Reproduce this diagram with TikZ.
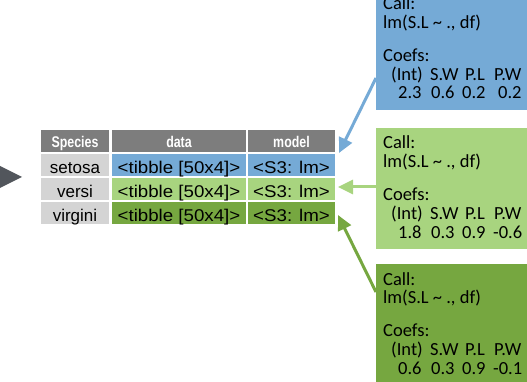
\documentclass[tikz,border=0pt]{standalone}
\usepackage{fontspec}
\setmainfont{Liberation Sans}
\newfontfamily\boxfont{Carlito}
\newfontfamily\widefont[FakeStretch=1.1]{Liberation Sans}
\newfontfamily\hdrfont[FakeStretch=0.8]{Liberation Sans Bold}
\usetikzlibrary{arrows.meta}
\definecolor{cblue}{RGB}{117,170,214}
\definecolor{clight}{RGB}{168,212,127}
\definecolor{cdark}{RGB}{118,167,64}
\definecolor{chead}{RGB}{125,125,125}
\definecolor{cspec}{RGB}{212,212,212}
\definecolor{carrow}{RGB}{82,86,92}
\newcommand\coefpanel[8]{%
  \node[panel, fill=#3] (#1) at (376,#2) {};
  \node[ptext] (#1call) at (383,{#2+21}) {Call:};
  \node[ptext] (#1lm) at (383,{#2+39.5}) {lm(S.L \textasciitilde{} ., df)};
  \node[ptext] (#1coef) at (383,{#2+72.5}) {Coefs:};
  \node[ptext] (#1hA) at (391,{#2+91.5}) {(Int)};
  \node[ptext] (#1hB) at (430,{#2+91.5}) {S.W};
  \node[ptext] (#1hC) at (465,{#2+91.5}) {P.L};
  \node[ptext] (#1hD) at (494,{#2+91.5}) {P.W};
  \node[ptext] (#1vA) at (398,{#2+110}) {#4};
  \node[ptext] (#1vB) at (431,{#2+110}) {#5};
  \node[ptext] (#1vC) at (462,{#2+110}) {#6};
  \node[ptext] (#1vD) at (#8,{#2+110}) {#7};
}
\begin{document}
\begin{tikzpicture}[x=1pt,y=-1pt,
  cellbox/.style={draw=none, inner sep=0pt, minimum height=22pt, anchor=center,
    font=\fontsize{17}{17}\selectfont, text height=17pt, text depth=0.5pt},
  widebox/.style={cellbox, font=\widefont\fontsize{17}{17}\selectfont},
  hdrbox/.style={cellbox, fill=chead, text=white,
    font=\hdrfont\fontsize{15.5}{15.5}\selectfont, text height=13.5pt, text depth=0.4pt},
  panel/.style={draw=none, inner sep=0pt, anchor=north west, minimum width=160pt, minimum height=121pt},
  ptext/.style={inner sep=0pt, anchor=base west, font=\boxfont\fontsize{18.5}{18.5}\selectfont},
  arr/.style={line width=3pt, -{Triangle[length=15pt,width=14pt]}, shorten >=0pt}
]
\useasboundingbox (0,0) rectangle (527,382);
\clip (0,0) rectangle (527,382);

% left arrow head (cut at the edge)
\fill[carrow] (0,166) -- (22,177) -- (0,188) -- cycle;

% header row
\node[hdrbox, minimum width=68pt] (hS) at (75,141) {Species};
\node[hdrbox, minimum width=134pt] (hD) at (179,141) {data};
\node[hdrbox, minimum width=87pt] (hM) at (291.5,141) {model};

% rows
\node[cellbox, fill=cspec, minimum width=68pt] (s1) at (75,165) {setosa};
\node[widebox, fill=cblue, minimum width=134pt] (d1) at (179,165) {<tibble [50x4]>};
\node[widebox, fill=cblue, minimum width=87pt] (m1) at (291.5,165) {<S3: lm>};

\node[cellbox, fill=cspec, minimum width=68pt] (s2) at (75,189) {versi};
\node[widebox, fill=clight, minimum width=134pt] (d2) at (179,189) {<tibble [50x4]>};
\node[widebox, fill=clight, minimum width=87pt] (m2) at (291.5,189) {<S3: lm>};

\node[cellbox, fill=cspec, minimum width=68pt] (s3) at (75,213) {virgini};
\node[widebox, fill=cdark, minimum width=134pt] (d3) at (179,213) {<tibble [50x4]>};
\node[widebox, fill=cdark, minimum width=87pt] (m3) at (291.5,213) {<S3: lm>};

% panels
\coefpanel{pb}{-11}{cblue}{2.3}{0.6}{0.2}{0.2}{498}
\coefpanel{pl}{128}{clight}{1.8}{0.3}{0.9}{-0.6}{493}
\coefpanel{pd}{264}{cdark}{0.6}{0.3}{0.9}{-0.1}{493}

% connectors
\coordinate (bs) at (376,78);  \coordinate (bt) at (339,153);
\coordinate (ls) at (376,187); \coordinate (lt) at (338,187);
\coordinate (ds) at (376,292); \coordinate (dt) at (338,215);
\draw[arr, cblue] (bs) -- (bt);
\draw[arr, clight] (ls) -- (lt);
\draw[arr, cdark] (ds) -- (dt);
\end{tikzpicture}
\end{document}
